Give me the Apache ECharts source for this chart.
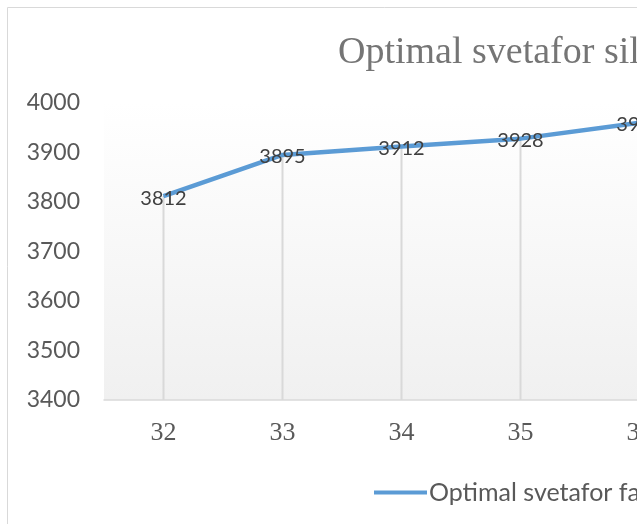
<!DOCTYPE html>
<html>
<head>
    <meta charset="UTF-8">
    <title>chart</title>
    <script type="text/javascript" src="https://cdn.jsdelivr.net/npm/echarts@6/dist/echarts.min.js"></script>
</head>
<style>
    body {
        margin: 0;
        overflow: hidden;
        background: #ffffff;
    }
    .main {
        width: 760px;
        height: 524px;
    }
</style>
<body>
<div id="charts" class="main"></div>
<script type="text/javascript">
    var categories = ['32', '33', '34', '35', '36'];
    var values = [3812, 3895, 3912, 3928, 3960];
    var yTicks = [3400, 3500, 3600, 3700, 3800, 3900, 4000];
    var titleText = 'Optimal svetafor sil';
    var seriesName = 'Optimal svetafor fa';

    var myChart = echarts.init(document.getElementById('charts'));
    var option = {
        animation: false,
        graphic: [{
            type: 'rect',
            shape: {x: 7.5, y: 7.5, width: 900, height: 700},
            style: {fill: 'none', stroke: '#d9d9d9', lineWidth: 1},
            silent: true
        }],
        title: {
            text: titleText,
            left: 333,
            top: 29,
            textStyle: {
                fontFamily: 'Liberation Serif',
                fontSize: 38,
                fontWeight: 'normal',
                color: '#757575'
            }
        },
        legend: {
            data: [seriesName],
            left: 369,
            top: 475,
            icon: 'rect',
            itemWidth: 53,
            itemHeight: 4,
            textStyle: {
                fontFamily: 'Lato',
                fontSize: 25,
                color: '#595959',
                padding: [0, 0, 0, -3]
            }
        },
        grid: {
            left: 104,
            top: 103,
            width: 119 * categories.length,
            height: 297,
            show: true,
            borderWidth: 0,
            backgroundColor: new echarts.graphic.LinearGradient(0, 0, 0, 1, [
                {offset: 0, color: '#ffffff'},
                {offset: 1, color: '#f0f0f0'}
            ])
        },
        xAxis: {
            type: 'category',
            data: categories,
            boundaryGap: true,
            axisLine: {lineStyle: {color: '#d9d9d9', width: 1.5}},
            axisTick: {show: false},
            splitLine: {show: false},
            axisLabel: {
                margin: 20,
                fontFamily: '"Liberation Serif", serif',
                fontSize: 26,
                color: '#595959'
            }
        },
        yAxis: {
            type: 'value',
            min: yTicks[0],
            max: yTicks[yTicks.length - 1],
            interval: 100,
            axisLine: {show: false},
            axisTick: {show: false},
            splitLine: {show: false},
            axisLabel: {
                margin: 24,
                fontFamily: 'Lato',
                fontSize: 23,
                color: '#595959',
                formatter: function (v) { return String(v); }
            }
        },
        series: [
            {
                name: 'drop',
                type: 'bar',
                data: values,
                barWidth: 2,
                silent: true,
                itemStyle: {color: '#d9d9d9'},
                z: 1
            },
            {
                name: seriesName,
                type: 'line',
                data: values,
                showSymbol: true,
                symbol: 'circle',
                symbolSize: 1,
                itemStyle: {color: '#5b9bd5'},
                lineStyle: {color: '#5b9bd5', width: 4.5},
                label: {
                    show: true,
                    position: 'inside',
                    offset: [0, 2],
                    fontFamily: 'Lato',
                    fontSize: 20,
                    color: '#404040'
                },
                z: 3
            }
        ]
    };
    option && myChart.setOption(option);
</script>
</body>
</html>
